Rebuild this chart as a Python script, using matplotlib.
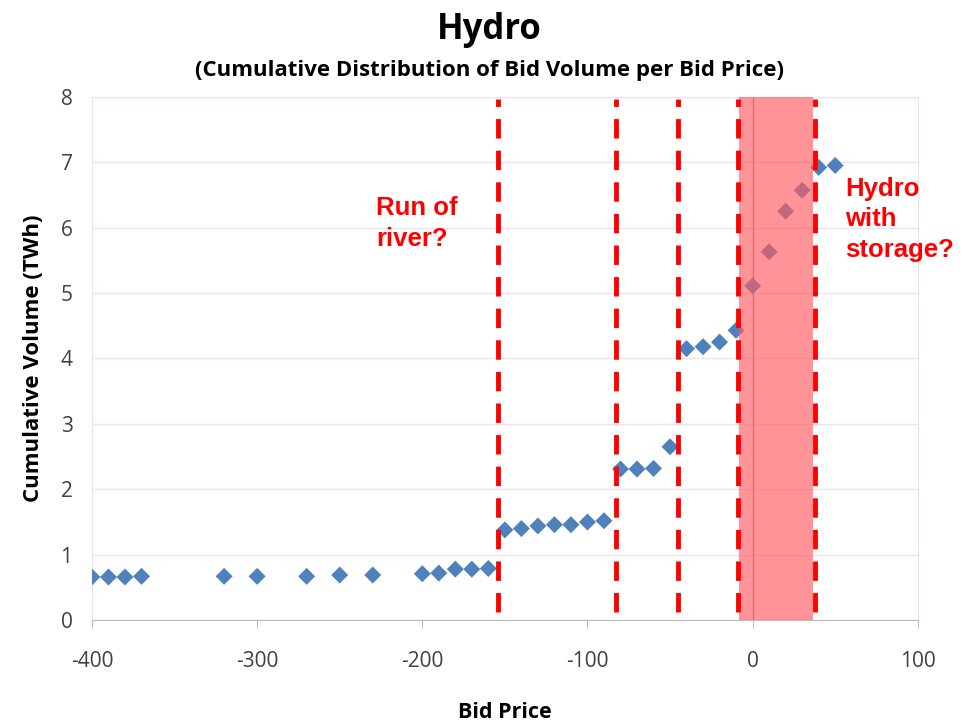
import matplotlib.pyplot as plt

# bid price vs cumulative volume (TWh)
bid_price = [-400, -390, -380, -370, -320, -300, -270, -250, -230,
             -200, -190, -180, -170, -160,
             -150, -140, -130, -120, -110, -100, -90,
             -80, -70, -60, -50,
             -40, -30, -20, -10,
             0, 10, 20, 30, 40, 50]
cum_volume = [0.66, 0.66, 0.66, 0.67, 0.67, 0.67, 0.67, 0.69, 0.69,
              0.71, 0.72, 0.78, 0.78, 0.79,
              1.38, 1.40, 1.44, 1.46, 1.46, 1.50, 1.52,
              2.31, 2.31, 2.32, 2.65,
              4.15, 4.18, 4.25, 4.43,
              5.11, 5.63, 6.25, 6.57, 6.92, 6.95]

split_prices = [-154, -83, -45, -9, 38]
storage_band = (-8, 36.5)

plt.rcParams['font.family'] = ['Open Sans', 'DejaVu Sans']
plt.rcParams['axes.unicode_minus'] = False

fig = plt.figure(figsize=(9.67, 7.22), dpi=100)
ax = fig.add_axes([0.0951, 0.141, 0.854, 0.725])

ax.set_xlim(-400, 100)
ax.set_ylim(0, 8)
ax.set_xticks(range(-400, 101, 100))
ax.set_yticks(range(0, 9))

ax.grid(True, axis='y', color='#f0e0f0', linewidth=1)
ax.set_axisbelow(True)
for s in ['top', 'right', 'left']:
    ax.spines[s].set_color('#eee0ee')
ax.spines['bottom'].set_color('#bbbbbb')
ax.axvline(0, color='#999999', linewidth=1, zorder=1)

ax.tick_params(axis='both', labelsize=15, colors='#404040', length=6)
ax.tick_params(axis='y', length=0, pad=14)
ax.tick_params(axis='x', color='#bbbbbb', pad=16)

ax.scatter(bid_price, cum_volume, marker='D', s=75, color='#4f81bd',
           edgecolors='none', zorder=3)

ax.axvspan(storage_band[0], storage_band[1], color='#ff5a5f', alpha=0.65,
           linewidth=0, zorder=4)
for p in split_prices:
    ax.axvline(p, ymin=0.015, ymax=0.995, color='#ff0000', linewidth=3.5,
               linestyle=(0, (4, 2.5)), zorder=5)

note_font = dict(family=['Liberation Sans', 'DejaVu Sans'], fontsize=18.5,
                 fontweight='bold', color='#ff0000', ha='left', va='baseline',
                 linespacing=1.35)
ax.text(-228, 5.72, 'Run of\nriver?', **note_font)
ax.text(56, 5.55, 'Hydro\nwith\nstorage?', **note_font)

ax.set_xlabel('Bid Price', fontsize=15.5, fontweight='bold', labelpad=22)
ax.set_ylabel('Cumulative Volume (TWh)', fontsize=16, fontweight='bold',
              labelpad=12)

fig.text(0.506, 0.958, 'Hydro', ha='center', va='center', fontsize=25,
         fontweight='bold')
fig.text(0.506, 0.902, '(Cumulative Distribution of Bid Volume per Bid Price)',
         ha='center', va='center', fontsize=16, fontweight='bold')

fig.savefig('out.png', dpi=100)
